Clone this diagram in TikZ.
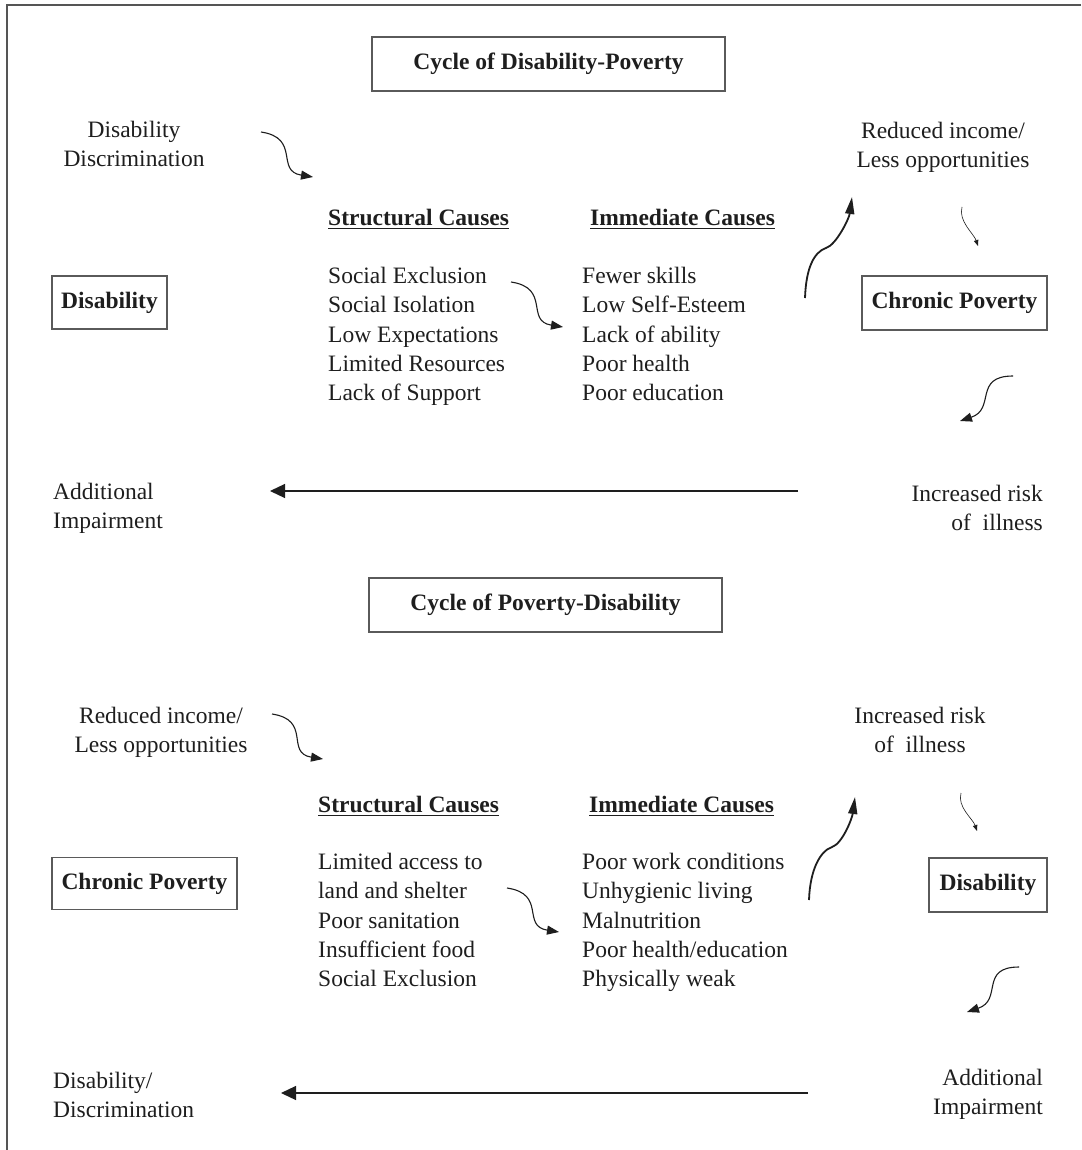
\documentclass[tikz,border=0pt]{standalone}
\usepackage{fontspec}
\setmainfont{Liberation Serif}
\usetikzlibrary{arrows.meta}
\definecolor{ink}{HTML}{1E1E1E}
\definecolor{framegray}{HTML}{555555}
\definecolor{boxgray}{HTML}{5A5A5A}
\newcommand\fs{\fontsize{23.5}{29.3}\selectfont}
\newcommand\ulbf[1]{\setbox0\hbox{\textbf{#1}}\rlap{\rule[-3.5pt]{\wd0}{1.3pt}}\box0}
\begin{document}
\begin{tikzpicture}[x=1pt,y=-1pt,
  every node/.style={inner sep=0pt, text=ink, font=\fs},
  boxnode/.style={draw=boxgray, line width=1.2pt, inner sep=0pt, font=\fs\bfseries},
  curv/.style={ink, line width=1.1pt, -{Triangle[length=12pt,width=9pt]}},
  bigarr/.style={ink, line width=1.8pt, -{Triangle[length=17pt,width=9pt]}},
  thinarr/.style={ink, line width=0.6pt, -{Triangle[length=6pt,width=4.5pt]}},
  harr/.style={ink, line width=1.2pt, -{Triangle[length=15pt,width=14pt]}}]
\fill[white] (0,0) rectangle (1081,1150);
\useasboundingbox (0,0) rectangle (1081,1150);
% frame
\draw[framegray, line width=1.3pt] (1081,5) -- (7,5) -- (7,1150);

% ===== top cycle =====
\node[boxnode, minimum width=353pt, minimum height=54pt] (t1) at (548.5,64) {Cycle of Disability-Poverty};
\node[anchor=north, align=center] (dd1) at (134,121) {Disability\\Discrimination};
\node[anchor=north west] (sc1) at (328,209) {\ulbf{Structural Causes}};
\node[anchor=north west] (ic1) at (590,209) {\ulbf{Immediate Causes}};
\node[anchor=north west, align=left] (sl1) at (328,267) {Social Exclusion\\Social Isolation\\Low Expectations\\Limited Resources\\Lack of Support};
\node[anchor=north west, align=left] (il1) at (582,267) {Fewer skills\\Low Self-Esteem\\Lack of ability\\Poor health\\Poor education};
\node[anchor=north, align=center] (ri1) at (943,122) {Reduced income/\\Less opportunities};
\node[boxnode, minimum width=115pt, minimum height=53pt] (dis1) at (109.5,302.5) {Disability};
\node[boxnode, minimum width=185pt, minimum height=54pt] (cp1) at (954.5,303) {Chronic Poverty};
\node[anchor=north east, align=right] (ir1) at (1043,485) {Increased risk\\of\ \ illness};
\node[anchor=north west, align=left] (ai1) at (53,483) {Additional\\Impairment};

\coordinate (a1s) at (261,132); \coordinate (a1e) at (313,177);
\coordinate (a2s) at (511,282); \coordinate (a2e) at (563,327);
\coordinate (a3s) at (805,298); \coordinate (a3m) at (826,248); \coordinate (a3e) at (852,197);
\coordinate (a4s) at (962,207); \coordinate (a4e) at (978,246);
\coordinate (a5s) at (1013,376); \coordinate (a5e) at (960,421);
\coordinate (h1s) at (798,491); \coordinate (h1e) at (270,491);

\draw[curv] (a1s) .. controls +(40,6) and +(-38,-6) .. (a1e);
\draw[curv] (a2s) .. controls +(40,6) and +(-38,-6) .. (a2e);
\draw[bigarr] (a3s) .. controls +(1,-30) and +(-12,4) .. (a3m) .. controls +(10,-3) and +(-3,22) .. (a3e);
\draw[thinarr] (a4s) .. controls +(-4,14) and +(-4,-12) .. (a4e);
\draw[curv] (a5s) .. controls +(-40,0) and +(36,-12) .. (a5e);
\draw[harr] (h1s) -- (h1e);

% ===== bottom cycle =====
\node[boxnode, minimum width=353pt, minimum height=54pt] (t2) at (545.5,605) {Cycle of Poverty-Disability};
\node[anchor=north, align=center] (ri2) at (161,707) {Reduced income/\\Less opportunities};
\node[anchor=north west] (sc2) at (318,796) {\ulbf{Structural Causes}};
\node[anchor=north west] (ic2) at (589,796) {\ulbf{Immediate Causes}};
\node[anchor=north west, align=left] (sl2) at (318,853) {Limited access to\\land and shelter\\Poor sanitation\\Insufficient food\\Social Exclusion};
\node[anchor=north west, align=left] (il2) at (582,853) {Poor work conditions\\Unhygienic living\\Malnutrition\\Poor health/education\\Physically weak};
\node[anchor=north, align=center] (ir2) at (920,707) {Increased risk\\of\ \ illness};
\node[boxnode, minimum width=185pt, minimum height=52pt] (cp2) at (144.5,883.5) {Chronic Poverty};
\node[boxnode, minimum width=118pt, minimum height=54pt] (dis2) at (988,885) {Disability};
\node[anchor=north east, align=right] (ai2) at (1043,1069) {Additional\\Impairment};
\node[anchor=north west, align=left] (dd2) at (53,1072) {Disability/\\Discrimination};

\coordinate (b1s) at (272,714); \coordinate (b1e) at (323,759);
\coordinate (b2s) at (507,888); \coordinate (b2e) at (559,932);
\coordinate (b3s) at (809,900); \coordinate (b3m) at (832,847); \coordinate (b3e) at (855,797);
\coordinate (b4s) at (961,793); \coordinate (b4e) at (977,831);
\coordinate (b5s) at (1019,967); \coordinate (b5e) at (967,1012);
\coordinate (h2s) at (808,1093); \coordinate (h2e) at (281,1093);

\draw[curv] (b1s) .. controls +(40,6) and +(-38,-6) .. (b1e);
\draw[curv] (b2s) .. controls +(40,6) and +(-38,-6) .. (b2e);
\draw[bigarr] (b3s) .. controls +(1,-30) and +(-12,4) .. (b3m) .. controls +(10,-3) and +(-3,22) .. (b3e);
\draw[thinarr] (b4s) .. controls +(-4,14) and +(-4,-12) .. (b4e);
\draw[curv] (b5s) .. controls +(-40,0) and +(36,-12) .. (b5e);
\draw[harr] (h2s) -- (h2e);
\end{tikzpicture}
\end{document}
